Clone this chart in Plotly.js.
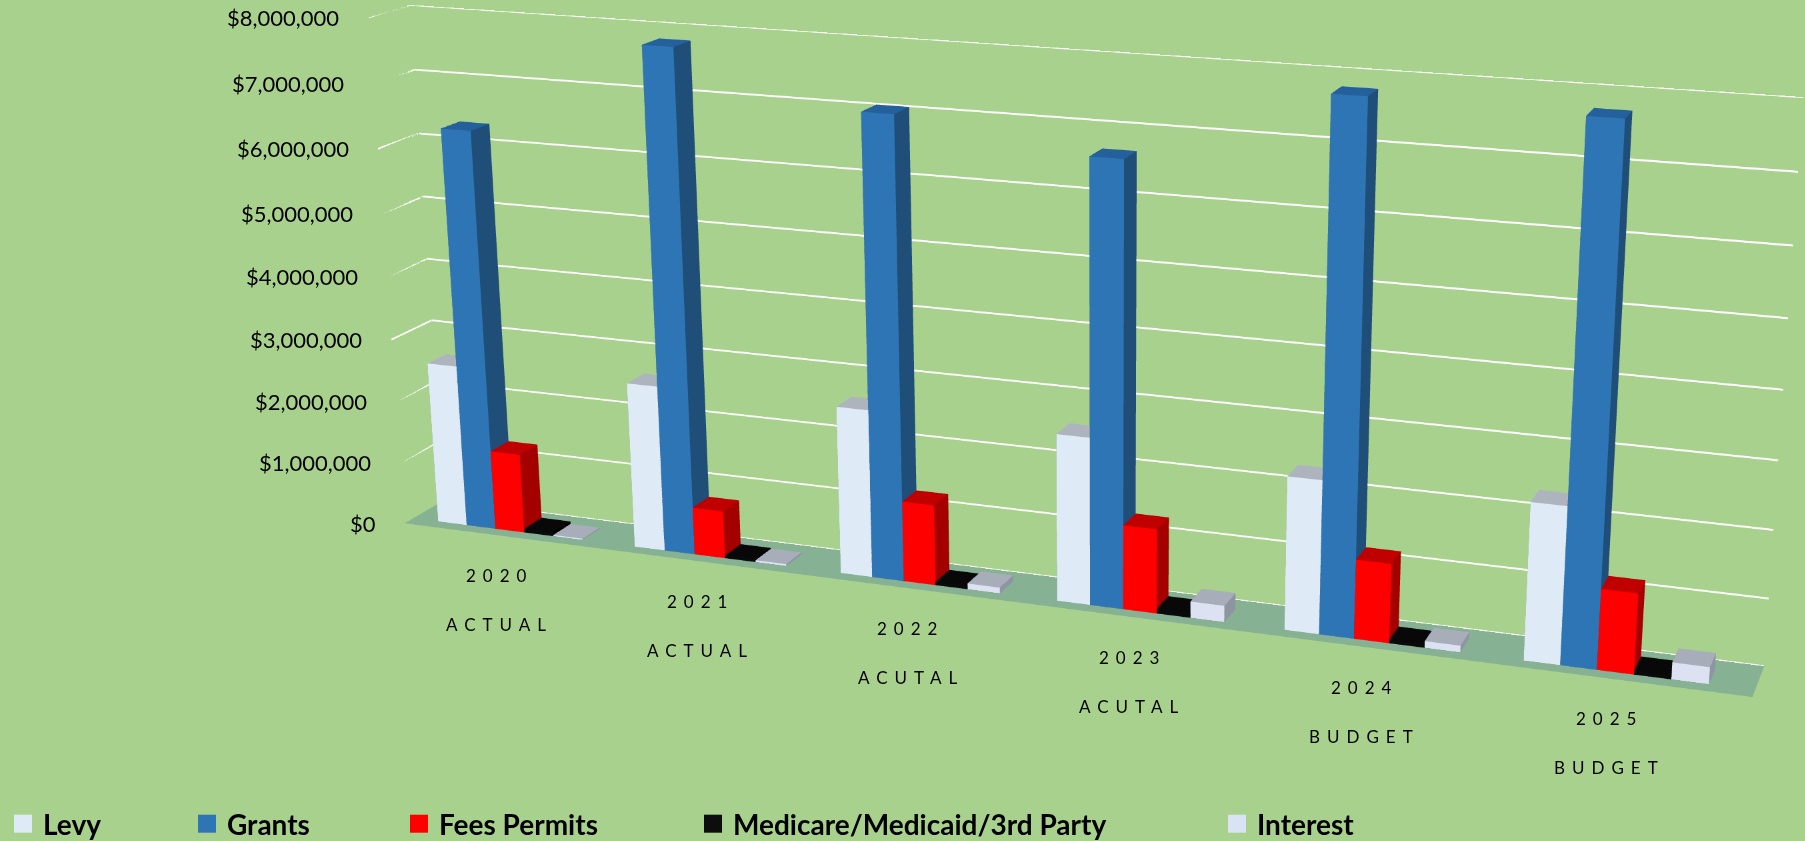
<!DOCTYPE html>
<html>
<head>
<meta charset="utf-8">
<script src="https://cdn.plot.ly/plotly-3.0.1.min.js"></script>
<style>
html,body{margin:0;padding:0;width:1805px;height:841px;overflow:hidden;background:#A9D18E;}
#chart{position:absolute;left:-156px;top:-871px;width:2520px;height:2515px;}
.legendpoints path{transform:translate(20px,0px) scale(1.5);}
</style>
</head>
<body>
<div id="chart"></div>
<script>
// ---- data ----
const years = ['2020', '2021', '2022', '2023', '2024', '2025'];
const stages = ['ACTUAL', 'ACTUAL', 'ACUTAL', 'ACUTAL', 'BUDGET', 'BUDGET'];
const seriesNames = ['Levy', 'Grants', 'Fees Permits', 'Medicare/Medicaid/3rd Party', 'Interest'];
const levy     = [2590000, 2620000, 2610000, 2560000, 2310000, 2330000];
const grants   = [6330000, 7820000, 7070000, 6680000, 7800000, 7740000];
const fees     = [1270000,  750000, 1250000, 1290000, 1190000, 1190000];
const medicare = [  60000,   40000,   50000,   70000,   50000,   60000];
const interest = [  20000,   30000,   90000,  250000,  100000,  250000];
const zTicks   = [0, 1000000, 2000000, 3000000, 4000000, 5000000, 6000000, 7000000, 8000000];
const zTickText = zTicks.map(v => '$' + v.toLocaleString('en-US'));

// ---- styles ----
const seriesValues = [levy, grants, fees, medicare, interest];
const legendColors = ['#DEEBF7', '#2E75B6', '#FF0000', '#0D0D0D', '#DAE3F3'];
// [front, side, top]
const faceColors = [
  ['#DEEBF7', '#B7C3D2', '#ADB4BE'],
  ['#2E75B6', '#1F4E79', '#24619C'],
  ['#FF0000', '#A50000', '#C00000'],
  ['#0A0A0A', '#000000', '#080808'],
  ['#DCE2F2', '#8E95A2', '#A8AEB9']
];
const BAR_W = 0.148, DEPTH = 0.32, Y0 = 0.07, Y1 = 0.22;
const X_MIN = -0.5, X_MAX = 5.55, Z_MAX = 8000000;
const GRID_HALF = 14000;
const flat = {ambient: 1, diffuse: 0, specular: 0, roughness: 1, fresnel: 0};

function boxTrace(vals, s) {
  const x = [], y = [], z = [], I = [], J = [], K = [], fc = [];
  const [cf, cs, ct] = faceColors[s];
  vals.forEach((v, g) => {
    const x0 = g - 2.5 * BAR_W + s * BAR_W, x1 = x0 + BAR_W;
    const b = x.length;
    const pts = [[x0,Y0,0],[x1,Y0,0],[x1,Y1,0],[x0,Y1,0],[x0,Y0,v],[x1,Y0,v],[x1,Y1,v],[x0,Y1,v]];
    pts.forEach(p => { x.push(p[0]); y.push(p[1]); z.push(p[2]); });
    const tris = [
      [0,1,5,cf],[0,5,4,cf],[1,2,6,cs],[1,6,5,cs],[4,5,6,ct],[4,6,7,ct],
      [2,3,7,cs],[2,7,6,cs],[3,0,4,cs],[3,4,7,cs],[0,2,1,cs],[0,3,2,cs]
    ];
    tris.forEach(t => { I.push(b+t[0]); J.push(b+t[1]); K.push(b+t[2]); fc.push(t[3]); });
  });
  return {
    type: 'mesh3d', x: x, y: y, z: z, i: I, j: J, k: K, facecolor: fc,
    flatshading: true, lighting: flat,
    hoverinfo: 'skip', showscale: false, showlegend: false, name: seriesNames[s]
  };
}

// gridlines on the back wall and the left wall, one thin band per tick value
function gridTrace() {
  const x = [], y = [], z = [], I = [], J = [], K = [];
  zTicks.forEach(v => {
    const lo = v - GRID_HALF, hi = v + GRID_HALF;
    let b = x.length;
    [[X_MIN,DEPTH,lo],[X_MAX,DEPTH,lo],[X_MAX,DEPTH,hi],[X_MIN,DEPTH,hi]].forEach(p => { x.push(p[0]); y.push(p[1]); z.push(p[2]); });
    I.push(b, b); J.push(b+1, b+2); K.push(b+2, b+3);
    b = x.length;
    [[X_MIN,0,lo],[X_MIN,DEPTH,lo],[X_MIN,DEPTH,hi],[X_MIN,0,hi]].forEach(p => { x.push(p[0]); y.push(p[1]); z.push(p[2]); });
    I.push(b, b); J.push(b+1, b+2); K.push(b+2, b+3);
  });
  return {type: 'mesh3d', x: x, y: y, z: z, i: I, j: J, k: K, color: '#FFFFFF',
    flatshading: true, lighting: flat, hoverinfo: 'skip', showscale: false, showlegend: false};
}

const traces = [gridTrace()].concat(seriesValues.map((v, s) => boxTrace(v, s)));

// legend entries
const legendIds = ['legend', 'legend2', 'legend3', 'legend4', 'legend5'];
seriesNames.forEach((n, s) => {
  traces.push({type: 'bar', x: [null], y: [null], name: n, marker: {color: legendColors[s]},
    legend: legendIds[s], showlegend: true, hoverinfo: 'skip', xaxis: 'x', yaxis: 'y'});
});

const catFont = {family: 'Lato, sans-serif', size: 17, color: '#000000'};
const tickFont = {family: 'Lato, sans-serif', size: 22, color: '#000000'};
const spaced = t => '<span style="letter-spacing:7px">' + t + '</span>';
const annotations = [];
years.forEach((yr, g) => {
  annotations.push({x: g, y: 0, z: 0, text: spaced(yr), showarrow: false, xshift: -2, yshift: -40, font: catFont});
  annotations.push({x: g, y: 0, z: 0, text: spaced(stages[g]), showarrow: false, xshift: -2, yshift: -89, font: catFont});
});
zTicks.forEach((v, i) => {
  annotations.push({x: X_MIN, y: 0, z: v, text: zTickText[i], showarrow: false, xanchor: 'right',
    xshift: -27, yshift: 0, font: tickFont});
});

const W = 2520, H = 2515, OX = 156, OY = 871;
const legX = [3, 187, 399, 693, 1217];
const legFont = {family: 'Lato, sans-serif', size: 28, color: '#000000', weight: 'bold'};
const layout = {
  width: W, height: H,
  margin: {l: 0, r: 0, t: 0, b: 0},
  paper_bgcolor: '#A9D18E', plot_bgcolor: 'rgba(0,0,0,0)',
  xaxis: {visible: false, domain: [0, 0.001], fixedrange: true},
  yaxis: {visible: false, domain: [0, 0.001], fixedrange: true},
  scene: {
    domain: {x: [0, 1], y: [0, 1]},
    bgcolor: 'rgba(0,0,0,0)',
    aspectmode: 'manual',
    aspectratio: {x: 0.963, y: DEPTH / 6, z: 0.3683},
    camera: {
      eye: {x: 0.6850, y: -1.8075, z: 0.5516},
      center: {x: 0.0452, y: -0.0008, z: -0.0345},
      up: {x: 0, y: 0, z: 1},
      projection: {type: 'perspective'}
    },
    xaxis: {range: [X_MIN, X_MAX], showgrid: false, zeroline: false, showline: false, showticklabels: false,
      ticks: '', showbackground: false, showspikes: false, title: {text: ''}},
    yaxis: {range: [0, DEPTH], showgrid: false, zeroline: false, showline: false, showticklabels: false,
      ticks: '', showbackground: false, showspikes: false, title: {text: ''}},
    zaxis: {range: [0, Z_MAX], tickvals: zTicks, ticktext: zTickText, showticklabels: false,
      showgrid: false, zeroline: false, showline: false,
      ticks: '', showbackground: true, backgroundcolor: '#86B192', showspikes: false, title: {text: ''}},
    annotations: annotations
  }
};
legendIds.forEach((id, s) => {
  layout[id] = {x: (legX[s] + OX) / W, y: 1 - (824 + OY) / H, xanchor: 'left', yanchor: 'middle',
    orientation: 'h', bgcolor: 'rgba(0,0,0,0)', borderwidth: 0, font: legFont};
});

Plotly.newPlot('chart', traces, layout, {displayModeBar: false, plotGlPixelRatio: 1.5});
</script>
</body>
</html>
